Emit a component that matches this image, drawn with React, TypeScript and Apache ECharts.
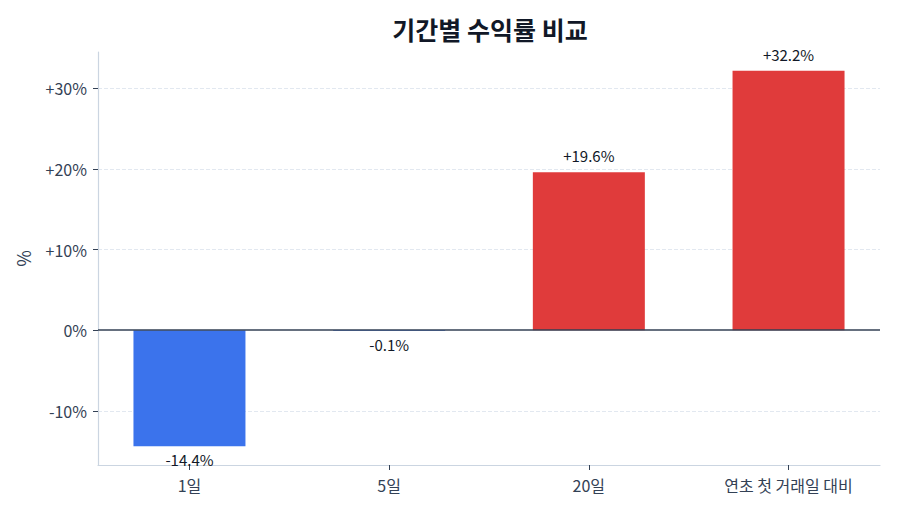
import { useEffect, useRef } from 'react';
import * as echarts from 'echarts';

const categories = ['1일', '5일', '20일', '연초 첫 거래일 대비'];
const returns = [-14.4, -0.1, 19.6, 32.2];
const yTicks = [-10, 0, 10, 20, 30];
const gridValues = [-10, 10, 20, 30];

const FONT = '"Noto Sans CJK KR", "Noto Sans", sans-serif';
const UP = '#e03b3b';
const DOWN = '#3b73ec';

const fmt = (v: number) => (v > 0 ? `+${v}%` : `${v}%`);

export default function App() {
  const ref = useRef<HTMLDivElement>(null);

  useEffect(() => {
    document.body.style.margin = '0';
    if (!ref.current) return;
    const chart = echarts.init(ref.current, null, { renderer: 'svg' });

    const option: echarts.EChartsOption = {
      animation: false,
      backgroundColor: '#ffffff',
      textStyle: { fontFamily: FONT },
      title: {
        text: '기간별 수익률 비교',
        left: 485,
        top: 11,
        textAlign: 'center',
        textStyle: { fontSize: 25, fontWeight: 'bold', color: '#111827', fontFamily: FONT }
      },
      grid: { left: 98, right: 20, top: 52, bottom: 49 },
      xAxis: {
        type: 'value',
        min: -0.458,
        max: 3.458,
        axisLine: { show: true, onZero: false, lineStyle: { color: '#cbd5e1', width: 1.2 } },
        axisTick: { show: true, customValues: [0, 1, 2, 3], length: 5, lineStyle: { color: '#334155' } },
        axisLabel: {
          customValues: [0, 1, 2, 3],
          formatter: (v: number) => categories[Math.round(v)] ?? '',
          color: '#334155',
          fontSize: 16,
          margin: 12,
          fontFamily: FONT
        },
        splitLine: { show: false }
      },
      yAxis: {
        type: 'value',
        min: -16.73,
        max: 34.53,
        name: '%',
        nameLocation: 'middle',
        nameRotate: 90,
        nameGap: 66,
        nameTextStyle: { fontSize: 18, color: '#334155', fontFamily: FONT },
        axisLine: { show: true, onZero: false, lineStyle: { color: '#cbd5e1', width: 1.2 } },
        axisTick: { show: true, customValues: yTicks, length: 5, lineStyle: { color: '#334155' } },
        axisLabel: {
          customValues: yTicks,
          formatter: (v: number) => fmt(v),
          color: '#334155',
          fontSize: 16,
          margin: 11,
          fontFamily: FONT
        },
        splitLine: { show: false }
      },
      series: [
        {
          type: 'line',
          data: [],
          z: 0,
          silent: true,
          markLine: {
            z: 0,
            silent: true,
            symbol: 'none',
            label: { show: false },
            data: gridValues.map((v) => ({
              yAxis: v,
              lineStyle: { color: '#e2e8f0', type: 'dashed' as const, width: 1 }
            }))
          }
        },
        {
          type: 'bar',
          barWidth: 112,
          z: 2,
          data: returns.map((v, i) => ({
            value: [i, v],
            itemStyle: { color: v >= 0 ? UP : DOWN },
            label: {
              show: true,
              position: v >= 0 ? 'top' : 'bottom',
              distance: v >= 0 ? 9 : 6,
              formatter: fmt(v),
              color: '#111827',
              fontSize: 15,
              fontFamily: FONT
            }
          })),
          markLine: {
            silent: true,
            symbol: 'none',
            label: { show: false },
            data: [{ yAxis: 0, lineStyle: { color: '#334155', type: 'solid' as const, width: 1.5 } }]
          }
        }
      ]
    };

    chart.setOption(option);
    return () => chart.dispose();
  }, []);

  return <div ref={ref} style={{ width: 900, height: 514 }} />;
}
